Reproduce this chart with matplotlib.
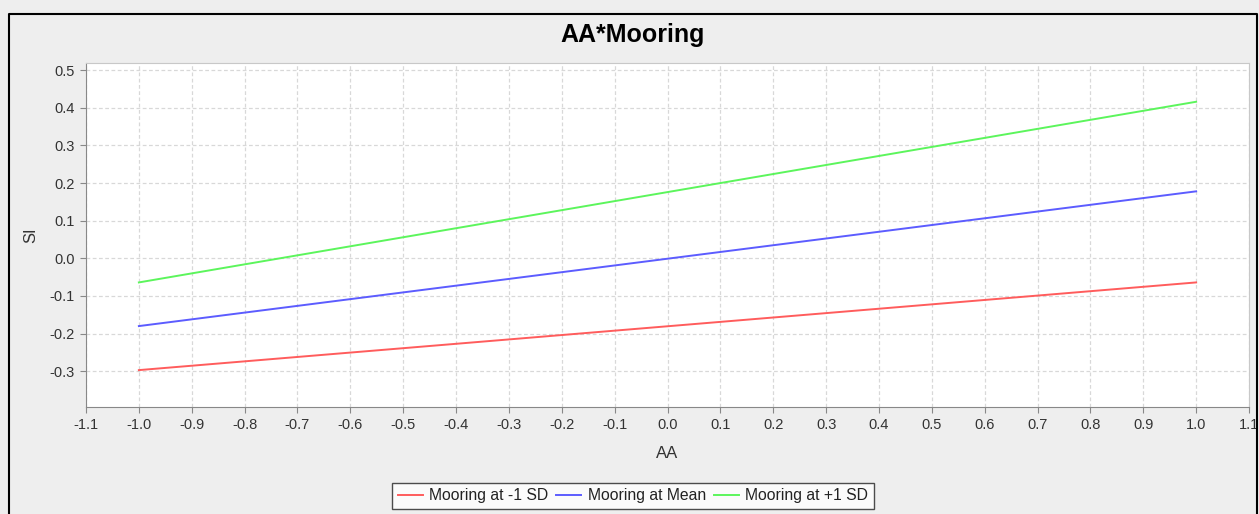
import matplotlib.pyplot as plt
from matplotlib.lines import Line2D
import numpy as np

# simple slopes: SI vs AA at three levels of Mooring
aa = [-1.0, 1.0]
si_low = [-0.297, -0.064]
si_mean = [-0.180, 0.178]
si_high = [-0.064, 0.416]
labels = ["Mooring at -1 SD", "Mooring at Mean", "Mooring at +1 SD"]
colors = ["#ff5c5c", "#5c5cff", "#5cf55c"]

xticks = np.round(np.arange(-1.1, 1.11, 0.1), 1)
yticks = np.round(np.arange(-0.3, 0.51, 0.1), 1)

sans = ["Liberation Sans", "DejaVu Sans"]

fig = plt.figure(figsize=(12.59, 5.14), dpi=100)
fig.patch.set_facecolor("#eeeeee")

# outer frame (left, top, right)
W, H = 1259.0, 514.0
fx = lambda px: px / W
fy = lambda py: 1 - py / H
fig.add_artist(Line2D([fx(9), fx(9), fx(1257), fx(1257)],
                      [fy(520), fy(13.5), fy(13.5), fy(520)],
                      color="black", lw=1.5, transform=fig.transFigure))

ax = fig.add_axes([fx(86), fy(407), (1249 - 86) / W, (407 - 63) / H])
ax.set_facecolor("white")

for y, lab, c in zip([si_low, si_mean, si_high], labels, colors):
    ax.plot(aa, y, color=c, lw=1.4, label=lab)

ax.set_xlim(-1.1, 1.1)
ax.set_ylim(-0.395, 0.519)
ax.set_xticks(xticks)
ax.set_yticks(yticks)
ax.set_xticklabels([f"{v:.1f}" for v in xticks], family=sans, fontsize=10.5, color="#333333")
ax.set_yticklabels([f"{v:.1f}" for v in yticks], family=sans, fontsize=10.5, color="#333333")
ax.tick_params(direction="out", length=4, color="#888888", pad=4)
ax.grid(True, color="#d8d8d8", ls=(0, (3, 2)), lw=0.9)

for s in ["left", "bottom"]:
    ax.spines[s].set_color("#888888")
for s in ["top", "right"]:
    ax.spines[s].set_color("#c8c8c8")

ax.set_xlabel("AA", family=sans, fontsize=12, color="#333333", labelpad=10)
ax.set_ylabel("SI", family=sans, fontsize=12, color="#333333", labelpad=8)

fig.text(fx(633), fy(35), "AA*Mooring", ha="center", va="center",
         family=sans, fontsize=18, fontweight="bold")

leg = fig.legend(loc="upper center", bbox_to_anchor=(fx(633), fy(483)), ncol=3,
                 frameon=True, fancybox=False, edgecolor="#222222",
                 handlelength=1.6, handletextpad=0.4, columnspacing=0.5,
                 borderpad=0.35, borderaxespad=0,
                 prop={"family": sans, "size": 11.3})
leg.get_frame().set_linewidth(1.0)
for t in leg.get_texts():
    t.set_color("#222222")

fig.savefig("out.png", dpi=100, facecolor=fig.get_facecolor())
